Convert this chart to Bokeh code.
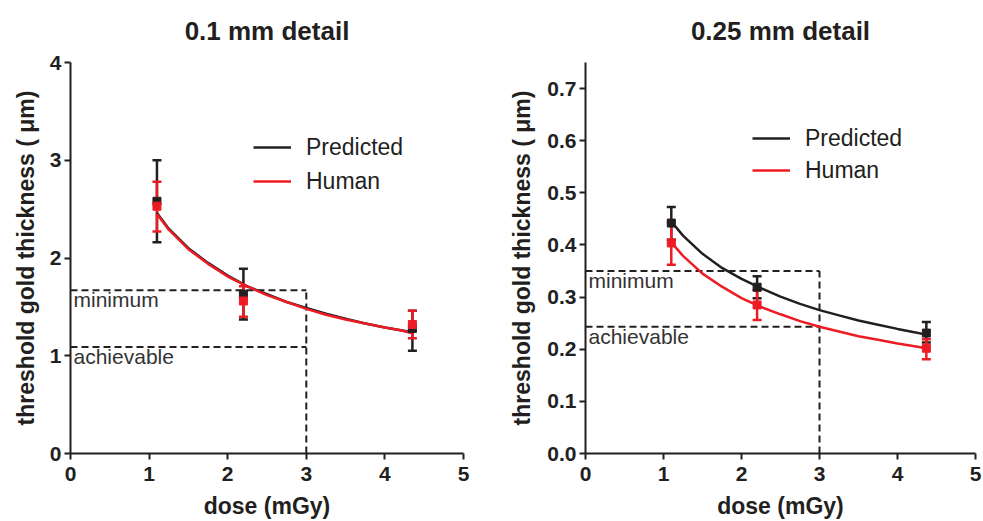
from bokeh.plotting import figure
from bokeh.layouts import row
from bokeh.models import (Range1d, FixedTicker, Legend, LegendItem, Whisker, TeeHead,
                          ColumnDataSource, NumeralTickFormatter)
from bokeh.core.properties import value
from bokeh.embed import file_html
from bokeh.resources import INLINE

# ---------------- data ----------------
titles = ["0.1 mm detail", "0.25 mm detail"]
y_label = "threshold gold thickness ( \u03bcm)"
x_label = "dose (mGy)"
series_names = ["Predicted", "Human"]
x_ticks = [0, 1, 2, 3, 4, 5]

# 0.1 mm detail
dose_01 = [1.1, 2.2, 4.35]
pred_01 = [2.58, 1.63, 1.28]
pred_01_lo = [2.16, 1.37, 1.05]
pred_01_hi = [3.00, 1.89, 1.46]
human_01 = [2.53, 1.56, 1.32]
human_01_lo = [2.27, 1.40, 1.18]
human_01_hi = [2.78, 1.71, 1.46]
curve_x_01 = [1.1, 1.25, 1.5, 1.75, 2.0, 2.25, 2.5, 2.75, 3.0, 3.25, 3.5, 3.75, 4.0, 4.2, 4.35]
curve_pred_01 = [2.46, 2.30, 2.10, 1.95, 1.82, 1.71, 1.63, 1.55, 1.49, 1.43, 1.38, 1.33, 1.29, 1.26, 1.24]
curve_human_01 = [2.45, 2.29, 2.09, 1.94, 1.81, 1.71, 1.62, 1.55, 1.48, 1.42, 1.37, 1.33, 1.29, 1.26, 1.23]
minimum_01 = 1.67
achievable_01 = 1.09
y_ticks_01 = [0, 1, 2, 3, 4]

# 0.25 mm detail
dose_025 = [1.1, 2.2, 4.37]
pred_025 = [0.442, 0.319, 0.231]
pred_025_lo = [0.410, 0.298, 0.213]
pred_025_hi = [0.473, 0.340, 0.252]
human_025 = [0.404, 0.285, 0.202]
human_025_lo = [0.362, 0.256, 0.181]
human_025_hi = [0.444, 0.313, 0.219]
curve_x_025 = [1.1, 1.25, 1.5, 1.75, 2.0, 2.25, 2.5, 2.75, 3.0, 3.25, 3.5, 3.75, 4.0, 4.2, 4.37]
curve_pred_025 = [0.445, 0.418, 0.383, 0.356, 0.335, 0.317, 0.301, 0.287, 0.275, 0.265, 0.255, 0.247, 0.239, 0.233, 0.228]
curve_human_025 = [0.405, 0.379, 0.345, 0.320, 0.298, 0.281, 0.267, 0.254, 0.243, 0.234, 0.225, 0.218, 0.211, 0.206, 0.202]
minimum_025 = 0.35
achievable_025 = 0.243
y_ticks_025 = [0.0, 0.1, 0.2, 0.3, 0.4, 0.5, 0.6, 0.7]

dose_limit = 3
threshold_labels = ["minimum", "achievable"]

# ---------------- style ----------------
BLACK = "#231f20"
RED = "#ed1c24"
FONT = "Liberation Sans"


def make_panel(title, width, y_end, y_ticks, border_left, border_right, border_top,
               title_standoff, ylabel_standoff, dose, pred, pred_lo, pred_hi, human, human_lo,
               human_hi, cx, cpred, chuman, minimum, achievable, legend_loc, legend_glyph_h, fmt):
    p = figure(width=width, height=521, output_backend="svg", toolbar_location=None,
               x_range=Range1d(0, 5), y_range=Range1d(0, y_end),
               min_border_left=border_left, min_border_right=border_right,
               min_border_top=border_top, min_border_bottom=521 - 453)
    p.outline_line_color = None
    p.xgrid.visible = False
    p.ygrid.visible = False
    p.background_fill_color = "white"
    p.border_fill_color = "white"

    p.title.text = title
    p.title.align = "center"
    p.title.vertical_align = "top"
    p.title.text_font = FONT
    p.title.text_font_size = "26px"
    p.title.text_font_style = "bold"
    p.title.text_color = BLACK
    p.title.standoff = title_standoff

    for ax in (p.xaxis[0], p.yaxis[0]):
        ax.axis_line_width = 2
        ax.axis_line_color = BLACK
        ax.major_tick_line_width = 2
        ax.major_tick_line_color = BLACK
        ax.major_tick_out = 6
        ax.major_tick_in = 0
        ax.minor_tick_line_color = None
        ax.major_label_text_font = FONT
        ax.major_label_text_font_size = "21px"
        ax.major_label_text_font_style = "bold"
        ax.major_label_text_color = BLACK
        ax.axis_label_text_font = FONT
        ax.axis_label_text_font_size = "23px"
        ax.axis_label_text_font_style = "bold"
        ax.axis_label_text_color = BLACK

    p.xaxis.ticker = FixedTicker(ticks=x_ticks)
    p.yaxis.ticker = FixedTicker(ticks=y_ticks)
    p.yaxis.formatter = NumeralTickFormatter(format=fmt)
    p.xaxis.axis_label = x_label
    p.yaxis.axis_label = y_label
    p.xaxis.major_label_standoff = 7
    p.xaxis.axis_label_standoff = 9
    p.xaxis.axis_label_text_line_height = 0.5
    p.yaxis.major_label_standoff = 3
    p.yaxis.axis_label_standoff = ylabel_standoff

    # threshold dashed lines
    p.segment(x0=[0, 0, dose_limit], y0=[minimum, achievable, 0],
              x1=[dose_limit, dose_limit, dose_limit], y1=[minimum, achievable, minimum],
              line_color=BLACK, line_width=2, line_dash="7 4")
    p.text(x=[0, 0], y=[minimum, achievable], text=threshold_labels,
           text_baseline="top", text_align="left", x_offset=3, y_offset=-2,
           text_font=value(FONT), text_font_size="21px", text_color="#333333")

    # curves
    r_pred = p.line(cx, cpred, line_color=BLACK, line_width=2.5)
    r_human = p.line(cx, chuman, line_color=RED, line_width=2.5)

    # points + error bars
    for vals, lo, hi, col in ((pred, pred_lo, pred_hi, BLACK), (human, human_lo, human_hi, RED)):
        src = ColumnDataSource(dict(x=dose, y=vals, lo=lo, hi=hi))
        w = Whisker(source=src, base="x", lower="lo", upper="hi", dimension="height",
                    line_color=col, line_width=2.5,
                    upper_head=TeeHead(size=9, line_color=col, line_width=2.5),
                    lower_head=TeeHead(size=9, line_color=col, line_width=2.5))
        p.add_layout(w)
        p.scatter("x", "y", source=src, marker="square", size=8, fill_color=col, line_color=col)

    legend = Legend(items=[LegendItem(label=series_names[0], renderers=[r_pred]),
                           LegendItem(label=series_names[1], renderers=[r_human])],
                    location=legend_loc, orientation="vertical",
                    background_fill_alpha=0, border_line_color=None,
                    padding=0, margin=0, spacing=4,
                    glyph_width=38, glyph_height=legend_glyph_h, label_height=legend_glyph_h,
                    label_standoff=15, label_text_font=FONT, label_text_font_size="23px",
                    label_text_color=BLACK)
    p.add_layout(legend)
    return p


p1 = make_panel(titles[0], 490, 4, y_ticks_01, 70, 27, 61, 30, 8,
                dose_01, pred_01, pred_01_lo, pred_01_hi, human_01, human_01_lo, human_01_hi,
                curve_x_01, curve_pred_01, curve_human_01, minimum_01, achievable_01,
                (183, 257), 30, "0")
p2 = make_panel(titles[1], 493, 0.75, y_ticks_025, 95, 8, 62, 30, 9,
                dose_025, pred_025, pred_025_lo, pred_025_hi, human_025, human_025_lo, human_025_hi,
                curve_x_025, curve_pred_025, curve_human_025, minimum_025, achievable_025,
                (167, 269), 28, "0.0")

layout = row(p1, p2)
open("out.html", "w").write(file_html(layout, INLINE))
